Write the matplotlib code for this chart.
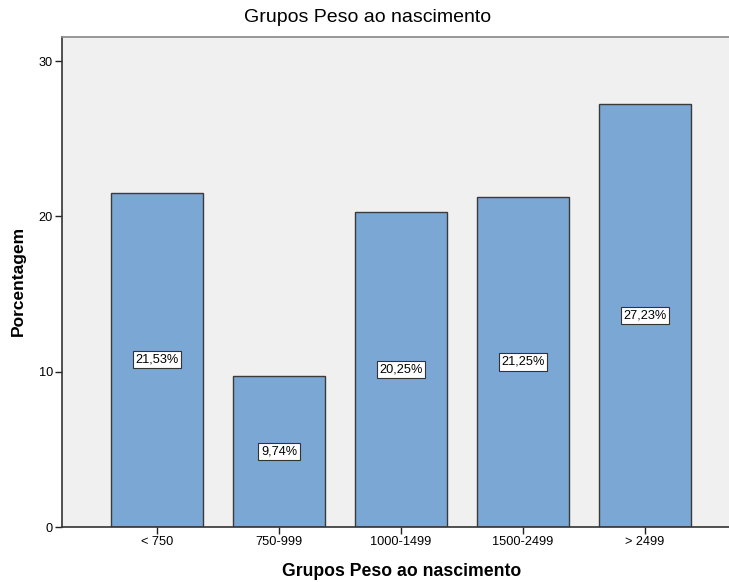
import matplotlib.pyplot as plt

plt.rcParams['font.family'] = ['Liberation Sans', 'DejaVu Sans']

# dados do grafico
categorias = ["< 750", "750-999", "1000-1499", "1500-2499", "> 2499"]
porcentagem = [21.53, 9.74, 20.25, 21.25, 27.23]
rotulos = ["21,53%", "9,74%", "20,25%", "21,25%", "27,23%"]
yticks = [0, 10, 20, 30]

fig = plt.figure(figsize=(7.29, 5.82), dpi=100)
# the original export is cropped on the right, so the axes run past the figure edge
ax = fig.add_axes([0.085, 0.0945, 0.93, 0.842])
ax.set_facecolor("#f0f0f0")

x = list(range(len(categorias)))
ax.bar(x, porcentagem, width=0.754, color="#7ba7d5", edgecolor="#3a3a3a", linewidth=1.0)

for xi, v, lab in zip(x, porcentagem, rotulos):
    ax.text(xi, v / 2, lab, ha="center", va="center", fontsize=9.2,
            bbox=dict(boxstyle="square,pad=0.2", fc="white", ec="#333333", lw=0.8))

ax.set_xlim(-0.779, 4.779)
ax.set_ylim(0, 31.55)
ax.set_xticks(x)
ax.set_xticklabels(categorias, fontsize=9.2)
ax.set_yticks(yticks)
ax.set_yticklabels([str(t) for t in yticks], fontsize=9.2)
ax.tick_params(direction="out", length=5, width=1, color="#222222", pad=1.5)

for s in ["left", "bottom"]:
    ax.spines[s].set_color("#333333")
    ax.spines[s].set_linewidth(1.2)
ax.spines["top"].set_color("#888888")
ax.spines["top"].set_linewidth(1.2)
ax.spines["right"].set_visible(False)

fig.text(368 / 729, 1 - 18 / 582, "Grupos Peso ao nascimento", ha="center", va="center",
         fontsize=14)
fig.text(402 / 729, 1 - 572 / 582, "Grupos Peso ao nascimento", ha="center", va="center",
         fontsize=12.7, fontweight="bold")
fig.text(18 / 729, 1 - 281 / 582, "Porcentagem", ha="center", va="center", rotation=90,
         fontsize=12.5, fontweight="bold")

fig.savefig("out.png", dpi=100, facecolor="white")
